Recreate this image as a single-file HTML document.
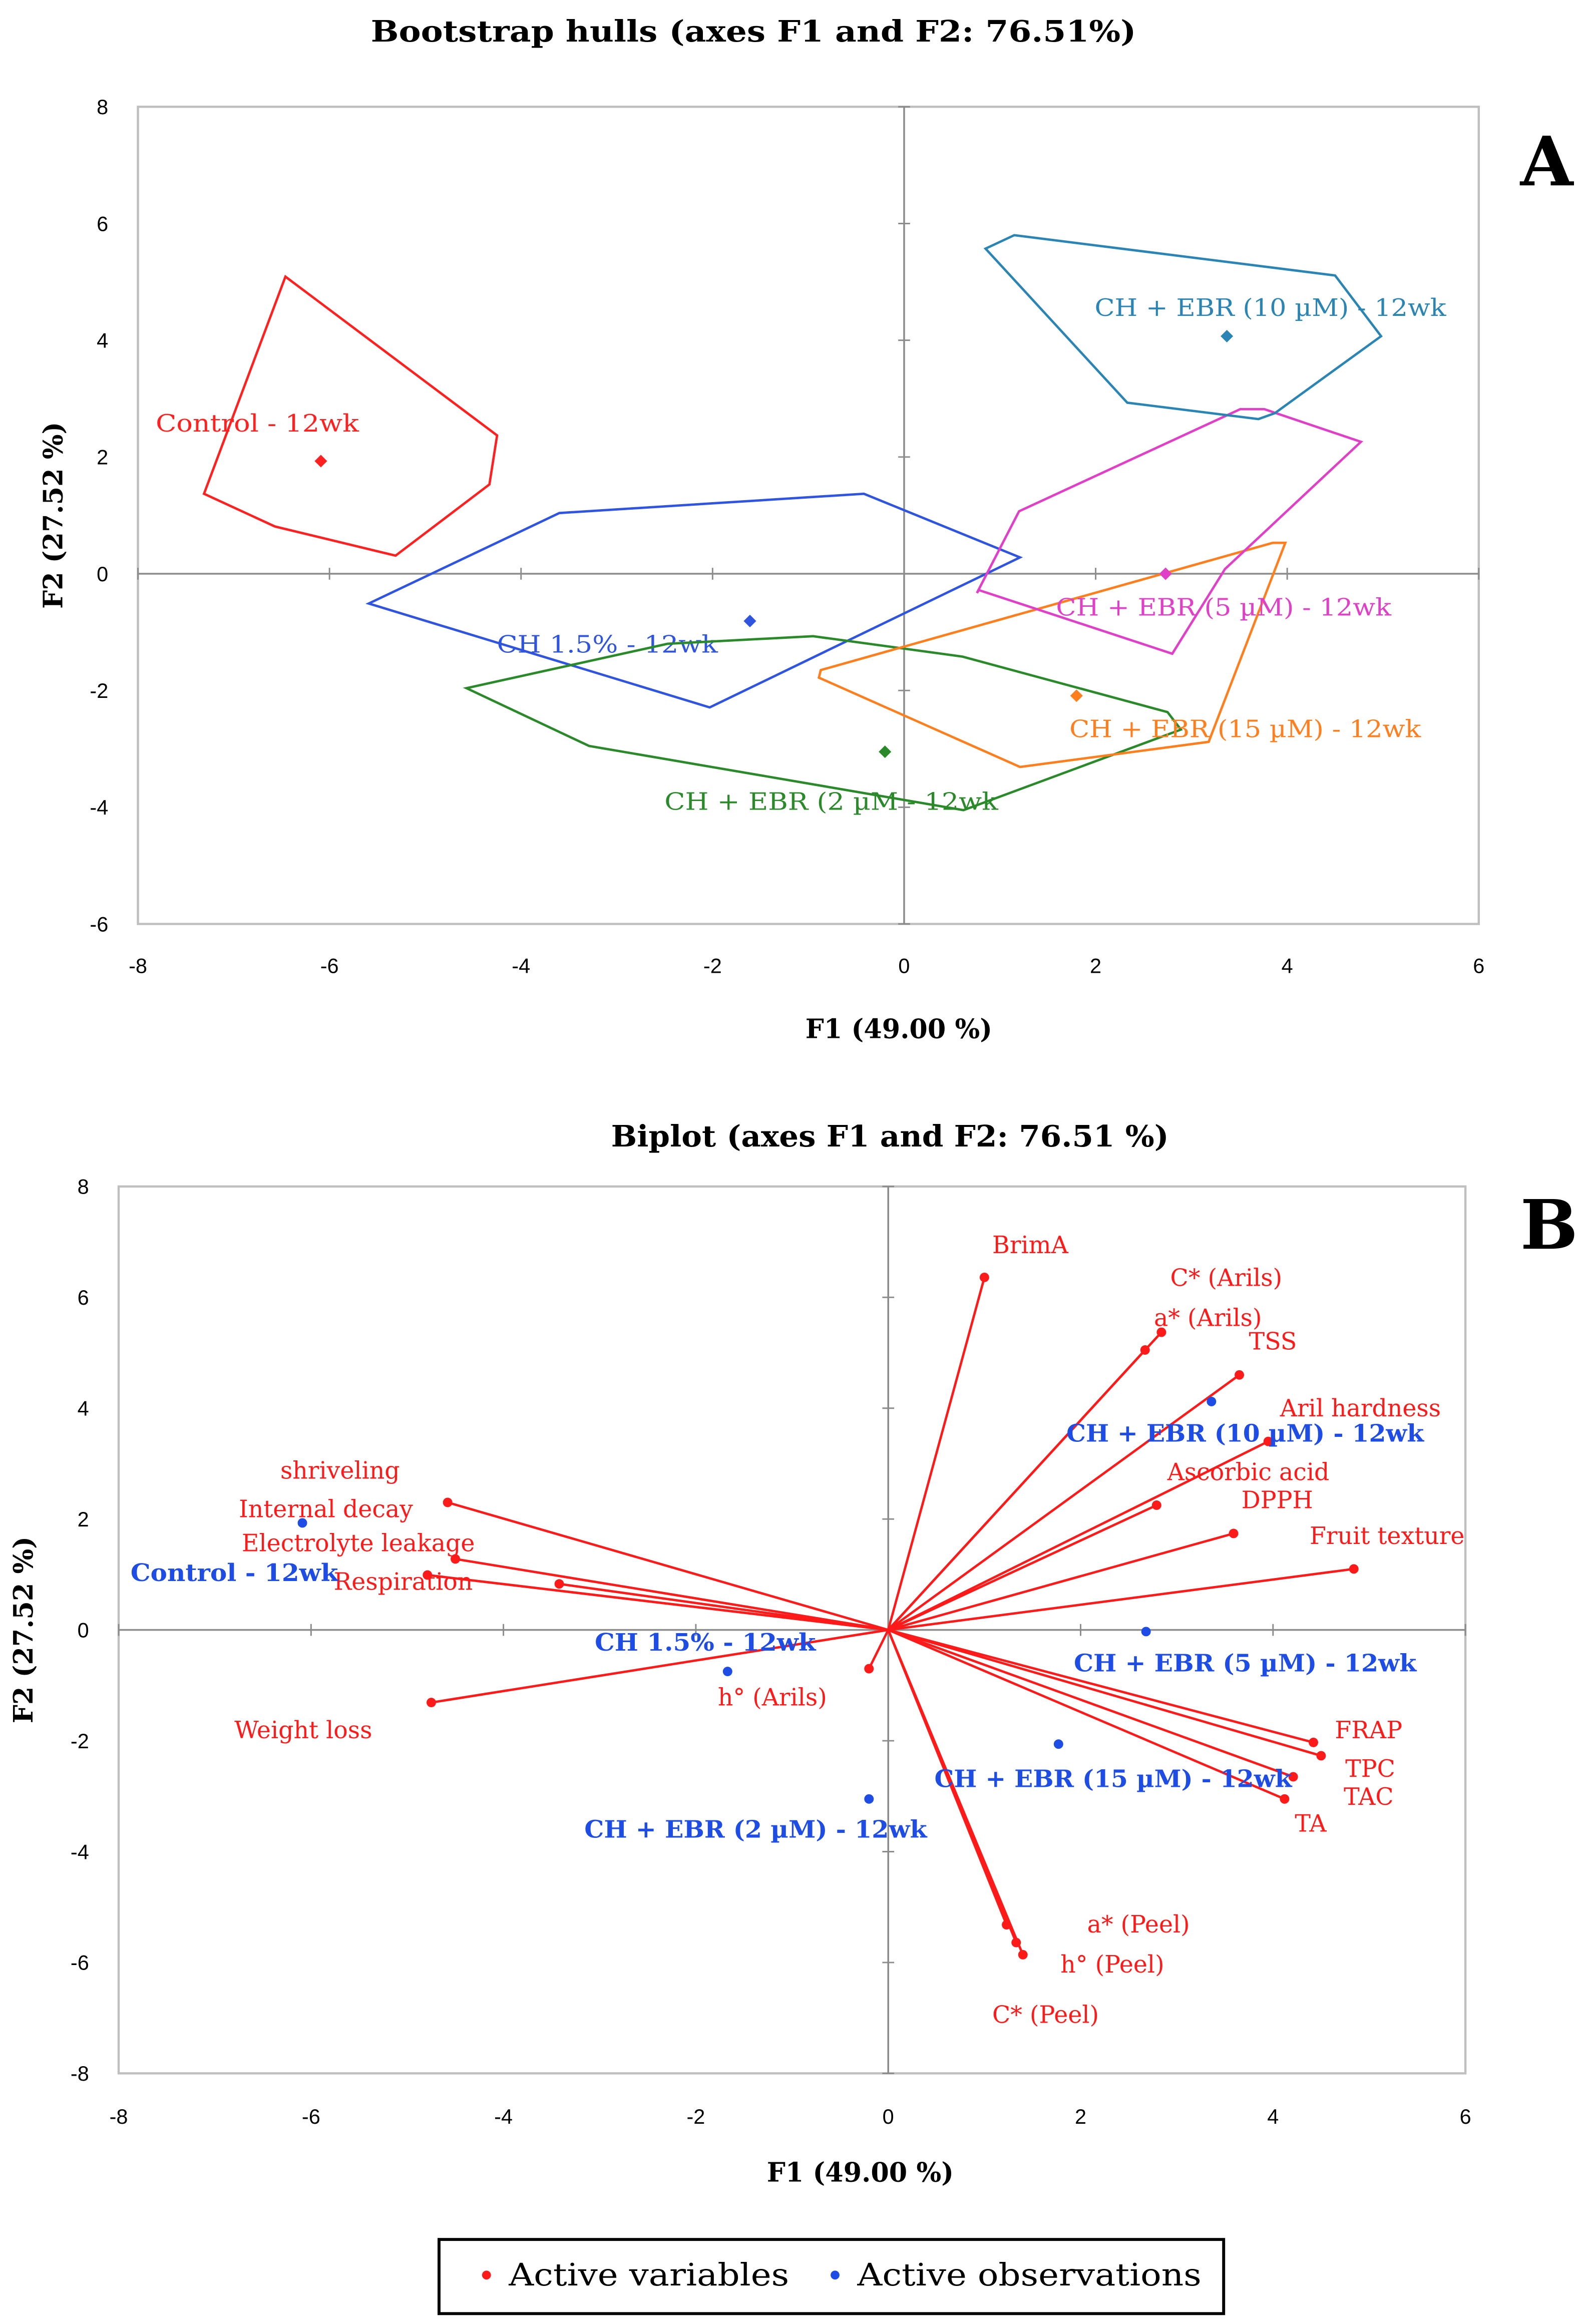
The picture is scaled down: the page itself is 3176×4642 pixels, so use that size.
<!DOCTYPE html>
<html><head><meta charset="utf-8"><style>
html,body{margin:0;padding:0;background:#fff;}
svg{display:block;font-family:"DejaVu Serif","Liberation Serif",serif;}
</style></head><body>
<svg id="fig" width="3176" height="4642" viewBox="0 0 1072 1567" preserveAspectRatio="none" xmlns="http://www.w3.org/2000/svg"></svg>
<script>
// ---------- Chart A data ----------
const hullNames = ["Control - 12wk","CH 1.5% - 12wk","CH + EBR (2 µM - 12wk","CH + EBR (15 µM) - 12wk","CH + EBR (5 µM) - 12wk","CH + EBR (10 µM) - 12wk"];
const hullColors = ["#ff2020","#2f55e0","#2a8a2a","#ff7f1e","#e040c8","#2a85b5"];
const hullCentroidX = [-6.09,-1.61,-0.20,1.80,2.73,3.37];
const hullCentroidY = [1.93,-0.81,-3.05,-2.09,0.00,4.07];
const hullPtsX = [
 [-6.46,-4.25,-4.33,-5.31,-6.57,-7.31],
 [-5.59,-3.60,-0.42,1.21,-2.03],
 [-4.57,-3.29,0.62,2.89,2.75,0.61,-0.95,-2.47],
 [-0.89,1.21,3.18,3.98,3.85,-0.87],
 [0.76,1.20,3.51,3.76,4.77,3.35,2.80,0.78],
 [0.85,1.15,4.50,4.98,3.87,3.70,2.33]];
const hullPtsY = [
 [5.09,2.37,1.53,0.31,0.81,1.37],
 [-0.51,1.04,1.37,0.28,-2.29],
 [-1.96,-2.95,-4.05,-2.67,-2.37,-1.42,-1.07,-1.20],
 [-1.78,-3.31,-2.88,0.53,0.53,-1.65],
 [-0.33,1.07,2.82,2.82,2.26,0.08,-1.37,-0.28],
 [5.57,5.80,5.11,4.07,2.75,2.65,2.93]];
const hullLabelX = [105,335,448,721,712,738];
const hullLabelY = [291,440,546,497,415,213];
const hullLabelW = [137,149,225,237,226,237];
const xTicksA = [-8,-6,-4,-2,0,2,4,6];
const yTicksA = [-6,-4,-2,0,2,4,6,8];
// ---------- Chart B data ----------
const varNames = ["BrimA","C* (Arils)","a* (Arils)","TSS","Aril hardness","Ascorbic acid","DPPH","Fruit texture","FRAP","TPC","TAC","TA","a* (Peel)","h° (Peel)","C* (Peel)","h° (Arils)","Weight loss","shriveling","Internal decay","Electrolyte leakage","Respiration"];
const varX = [1.00,2.84,2.67,3.65,3.95,2.79,3.59,4.84,4.42,4.50,4.21,4.12,1.23,1.33,1.40,-0.20,-4.75,-4.58,-4.50,-4.79,-3.42];
const varY = [6.36,5.37,5.05,4.60,3.40,2.25,1.74,1.10,-2.03,-2.27,-2.65,-3.05,-5.32,-5.64,-5.86,-0.70,-1.31,2.30,1.28,0.99,0.83];
const varLabelX = [669,789,778,842,863,787,837,883,900,907,906,873,733,715,669,484,158,189,161,163,225];
const varLabelY = [845,867,894,910,955,998,1017,1041,1172,1198,1217,1235,1303,1330,1364,1150,1172,997,1023,1046,1072];
const obsNames = ["Control - 12wk","CH 1.5% - 12wk","CH + EBR (2 µM) - 12wk","CH + EBR (15 µM) - 12wk","CH + EBR (5 µM) - 12wk","CH + EBR (10 µM) - 12wk"];
const obsX = [-6.09,-1.67,-0.20,1.77,2.68,3.36];
const obsY = [1.93,-0.75,-3.05,-2.06,-0.03,4.12];
const obsLabelX = [88,401,394,630,724,719];
const obsLabelY = [1066,1113,1239,1205,1127,972];
const obsLabelW = [140,149,231,241,231,241];
const xTicksB = [-8,-6,-4,-2,0,2,4,6];
const yTicksB = [-8,-6,-4,-2,0,2,4,6,8];

const NS="http://www.w3.org/2000/svg";
const svg=document.getElementById('fig');
function mk(tag,attrs,parent){const e=document.createElementNS(NS,tag);for(const k in attrs)e.setAttribute(k,attrs[k]);(parent||svg).appendChild(e);return e;}
function txt(s,attrs,parent){const e=mk('text',attrs,parent);e.textContent=s;return e;}

const A={l:93,r:997,t:72,b:623,x0:-8,x1:6,y0:-6,y1:8};
const B={l:80,r:988,t:800,b:1398,x0:-8,x1:6,y0:-8,y1:8};
function sx(P,v){return P.l+(v-P.x0)/(P.x1-P.x0)*(P.r-P.l);}
function sy(P,v){return P.b-(v-P.y0)/(P.y1-P.y0)*(P.b-P.t);}

function axes(P,xt,yt,title,titleX,titleY,titleW,tickY,xtitleX,xtitleY,ytitleX){
  const g=mk('g',{});
  
  
  const fr=mk('rect',{x:P.l,y:P.t,width:P.r-P.l,height:P.b-P.t,fill:'none',stroke:'#bfbfbf','stroke-width':1.5},g);
  
  
  const zx=sx(P,0),zy=sy(P,0);
  const ax=mk('line',{x1:P.l,x2:P.r,y1:zy,y2:zy,stroke:'#8c8c8c','stroke-width':1.2},g);
  
  
  const ay=mk('line',{x1:zx,x2:zx,y1:P.t,y2:P.b,stroke:'#8c8c8c','stroke-width':1.2},g);
  
  
  xt.forEach(v=>{
    mk('line',{x1:sx(P,v),x2:sx(P,v),y1:zy-4,y2:zy+4,stroke:'#8c8c8c','stroke-width':1},g);
    const t=txt(String(v),{x:sx(P,v),y:tickY,'font-size':14,'font-family':'Liberation Sans, sans-serif','text-anchor':'middle',fill:'#000'},g);
    
    
  });
  yt.forEach(v=>{
    mk('line',{x1:zx-4,x2:zx+4,y1:sy(P,v),y2:sy(P,v),stroke:'#8c8c8c','stroke-width':1},g);
    const t=txt(String(v),{x:P.l-20,y:sy(P,v)+5,'font-size':14,'font-family':'Liberation Sans, sans-serif','text-anchor':'end',fill:'#000'},g);
    
    
  });
  const tt=txt(title,{x:titleX,y:titleY,'font-size':20,'font-weight':'bold','text-anchor':'middle',textLength:titleW,lengthAdjust:'spacingAndGlyphs'},g);
  
  
  const xl=txt('F1 (49.00 %)',{x:xtitleX,y:xtitleY,'font-size':18,'font-weight':'bold','text-anchor':'middle',textLength:126,lengthAdjust:'spacingAndGlyphs'},g);
  
  
  const cy=(P.t+P.b)/2;
  const yl=txt('F2 (27.52 %)',{x:ytitleX,y:cy,'font-size':18,'font-weight':'bold','text-anchor':'middle',textLength:126,lengthAdjust:'spacingAndGlyphs',transform:`rotate(-90 ${ytitleX} ${cy})`},g);
  
  
}

// ---- Chart A ----
axes(A,xTicksA,yTicksA,'Bootstrap hulls (axes F1 and F2: 76.51%)',508,28,516,656,606,700,42);
const la=txt('A',{x:1025,y:125,'font-size':46,'font-weight':'bold'});


hullNames.forEach((n,i)=>{
  const pts=hullPtsX[i].map((x,j)=>sx(A,x)+','+sy(A,hullPtsY[i][j])).join(' ');
  const p=mk('polygon',{points:pts,fill:'none',stroke:hullColors[i],'stroke-width':1.6});
  
  
  const c=mk('rect',{x:sx(A,hullCentroidX[i])-3,y:sy(A,hullCentroidY[i])-3,width:6,height:6,fill:hullColors[i],transform:`rotate(45 ${sx(A,hullCentroidX[i])} ${sy(A,hullCentroidY[i])})`});
  
  
  const t=txt(n,{x:hullLabelX[i],y:hullLabelY[i],'font-size':16,fill:hullColors[i],textLength:hullLabelW[i],lengthAdjust:'spacingAndGlyphs'});
  
  
});

// ---- Chart B ----
axes(B,xTicksB,yTicksB,'Biplot (axes F1 and F2: 76.51 %)',600,773,376,1432,580,1471,22);
const lb=txt('B',{x:1025,y:842,'font-size':46,'font-weight':'bold'});


const ox=sx(B,0),oy=sy(B,0);
varNames.forEach((n,i)=>{
  const x=sx(B,varX[i]),y=sy(B,varY[i]);
  const l=mk('line',{x1:ox,y1:oy,x2:x,y2:y,stroke:'#ff1a1a','stroke-width':1.6});
  
  
  const c=mk('circle',{cx:x,cy:y,r:3.2,fill:'#ff1a1a'});
  
  
  const t=txt(n,{x:varLabelX[i],y:varLabelY[i],'font-size':16,fill:'#ff1a1a'});
  
  
});
obsNames.forEach((n,i)=>{
  const c=mk('circle',{cx:sx(B,obsX[i]),cy:sy(B,obsY[i]),r:3.2,fill:'#1e4de6'});
  
  
  const t=txt(n,{x:obsLabelX[i],y:obsLabelY[i],'font-size':16,'font-weight':'bold',fill:'#1e4de6',textLength:obsLabelW[i],lengthAdjust:'spacingAndGlyphs'});
  
  
});

// ---- Legend ----
const lg=mk('g',{});


mk('rect',{x:296,y:1510,width:529,height:50,fill:'#fff',stroke:'#000','stroke-width':2},lg);
const c1=mk('circle',{cx:328,cy:1534,r:3,fill:'#ff1a1a'},lg);


const t1=txt('Active variables',{x:343,y:1541,'font-size':21,textLength:189,lengthAdjust:'spacingAndGlyphs'},lg);


const c2=mk('circle',{cx:563,cy:1534,r:3,fill:'#1e4de6'},lg);


const t2=txt('Active observations',{x:578,y:1541,'font-size':21,textLength:232,lengthAdjust:'spacingAndGlyphs'},lg);


</script>
</body></html>
